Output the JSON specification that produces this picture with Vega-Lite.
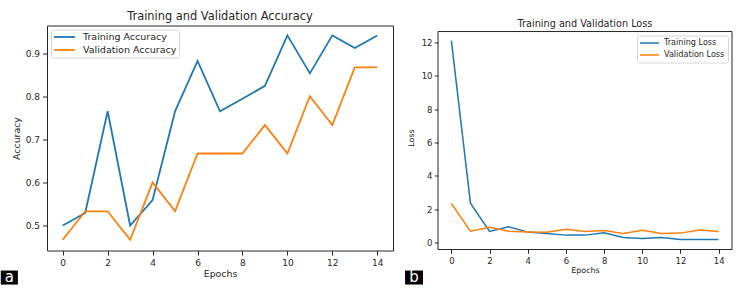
{
  "$schema": "https://vega.github.io/schema/vega-lite/v6.json",
  "padding": {"left": 0, "top": 10.5, "right": 10, "bottom": 3},
  "background": "white",
  "config": {
    "font": "DejaVu Sans",
    "view": {"stroke": "#262626", "strokeWidth": 1},
    "axis": {"grid": false, "domain": false, "labelOverlap": false, "tickCount": 20, "tickColor": "#262626", "labelColor": "#262626", "titleColor": "#262626", "titleFontWeight": "normal"},
    "title": {"fontWeight": "normal", "color": "#262626"},
    "legend": {"title": null, "labelColor": "#262626", "strokeColor": "#d6d6d6", "fillColor": "white", "cornerRadius": 2}
  },
  "datasets": {
    "acc": [
      {"epoch": 0, "value": 0.5, "series": "Training Accuracy"},
      {"epoch": 1, "value": 0.529, "series": "Training Accuracy"},
      {"epoch": 2, "value": 0.765, "series": "Training Accuracy"},
      {"epoch": 3, "value": 0.5, "series": "Training Accuracy"},
      {"epoch": 4, "value": 0.559, "series": "Training Accuracy"},
      {"epoch": 5, "value": 0.765, "series": "Training Accuracy"},
      {"epoch": 6, "value": 0.882, "series": "Training Accuracy"},
      {"epoch": 7, "value": 0.765, "series": "Training Accuracy"},
      {"epoch": 8, "value": 0.794, "series": "Training Accuracy"},
      {"epoch": 9, "value": 0.824, "series": "Training Accuracy"},
      {"epoch": 10, "value": 0.941, "series": "Training Accuracy"},
      {"epoch": 11, "value": 0.853, "series": "Training Accuracy"},
      {"epoch": 12, "value": 0.941, "series": "Training Accuracy"},
      {"epoch": 13, "value": 0.912, "series": "Training Accuracy"},
      {"epoch": 14, "value": 0.941, "series": "Training Accuracy"},
      {"epoch": 0, "value": 0.467, "series": "Validation Accuracy"},
      {"epoch": 1, "value": 0.533, "series": "Validation Accuracy"},
      {"epoch": 2, "value": 0.533, "series": "Validation Accuracy"},
      {"epoch": 3, "value": 0.467, "series": "Validation Accuracy"},
      {"epoch": 4, "value": 0.6, "series": "Validation Accuracy"},
      {"epoch": 5, "value": 0.533, "series": "Validation Accuracy"},
      {"epoch": 6, "value": 0.667, "series": "Validation Accuracy"},
      {"epoch": 7, "value": 0.667, "series": "Validation Accuracy"},
      {"epoch": 8, "value": 0.667, "series": "Validation Accuracy"},
      {"epoch": 9, "value": 0.733, "series": "Validation Accuracy"},
      {"epoch": 10, "value": 0.667, "series": "Validation Accuracy"},
      {"epoch": 11, "value": 0.8, "series": "Validation Accuracy"},
      {"epoch": 12, "value": 0.733, "series": "Validation Accuracy"},
      {"epoch": 13, "value": 0.867, "series": "Validation Accuracy"},
      {"epoch": 14, "value": 0.867, "series": "Validation Accuracy"}
    ],
    "loss": [
      {"epoch": 0, "value": 12.1, "series": "Training Loss"},
      {"epoch": 1, "value": 2.37, "series": "Training Loss"},
      {"epoch": 2, "value": 0.68, "series": "Training Loss"},
      {"epoch": 3, "value": 0.96, "series": "Training Loss"},
      {"epoch": 4, "value": 0.64, "series": "Training Loss"},
      {"epoch": 5, "value": 0.56, "series": "Training Loss"},
      {"epoch": 6, "value": 0.46, "series": "Training Loss"},
      {"epoch": 7, "value": 0.46, "series": "Training Loss"},
      {"epoch": 8, "value": 0.6, "series": "Training Loss"},
      {"epoch": 9, "value": 0.32, "series": "Training Loss"},
      {"epoch": 10, "value": 0.26, "series": "Training Loss"},
      {"epoch": 11, "value": 0.32, "series": "Training Loss"},
      {"epoch": 12, "value": 0.2, "series": "Training Loss"},
      {"epoch": 13, "value": 0.2, "series": "Training Loss"},
      {"epoch": 14, "value": 0.2, "series": "Training Loss"},
      {"epoch": 0, "value": 2.35, "series": "Validation Loss"},
      {"epoch": 1, "value": 0.69, "series": "Validation Loss"},
      {"epoch": 2, "value": 0.93, "series": "Validation Loss"},
      {"epoch": 3, "value": 0.69, "series": "Validation Loss"},
      {"epoch": 4, "value": 0.65, "series": "Validation Loss"},
      {"epoch": 5, "value": 0.63, "series": "Validation Loss"},
      {"epoch": 6, "value": 0.81, "series": "Validation Loss"},
      {"epoch": 7, "value": 0.67, "series": "Validation Loss"},
      {"epoch": 8, "value": 0.73, "series": "Validation Loss"},
      {"epoch": 9, "value": 0.56, "series": "Validation Loss"},
      {"epoch": 10, "value": 0.75, "series": "Validation Loss"},
      {"epoch": 11, "value": 0.56, "series": "Validation Loss"},
      {"epoch": 12, "value": 0.58, "series": "Validation Loss"},
      {"epoch": 13, "value": 0.77, "series": "Validation Loss"},
      {"epoch": 14, "value": 0.67, "series": "Validation Loss"}
    ],
    "tagA": [{"tag": "a"}],
    "tagB": [{"tag": "b"}]
  },
  "spacing": 11,
  "resolve": {"scale": {"color": "independent", "x": "independent", "y": "independent"}, "legend": {"color": "independent"}},
  "hconcat": [
    {
      "width": 346,
      "height": 225,
      "title": {"text": "Training and Validation Accuracy", "fontSize": 11.4, "offset": 3},
      "layer": [
        {
          "data": {"name": "acc"},
          "mark": {"type": "line", "strokeWidth": 1.8},
          "encoding": {
            "x": {"field": "epoch", "type": "quantitative",
              "scale": {"domain": [-0.7, 14.7], "nice": false, "zero": false},
              "axis": {"values": [0, 2, 4, 6, 8, 10, 12, 14], "title": "Epochs", "labelFontSize": 9, "titleFontSize": 9.4, "tickSize": 4.5, "labelPadding": 3, "titlePadding": 2}},
            "y": {"field": "value", "type": "quantitative",
              "scale": {"domain": [0.442, 0.964], "nice": false, "zero": false},
              "axis": {"values": [0.5, 0.6, 0.7, 0.8, 0.9], "format": ".1f", "title": "Accuracy", "labelFontSize": 9, "titleFontSize": 9.4, "tickSize": 4.5, "labelPadding": 3, "titlePadding": 4}},
            "color": {"field": "series", "type": "nominal",
              "scale": {"domain": ["Training Accuracy", "Validation Accuracy"], "range": ["#1f77b4", "#ff7f0e"]},
              "legend": {"orient": "top-left", "offset": 4, "padding": 2.5, "labelFontSize": 9.5, "symbolType": "M-2.625,0H2.625", "symbolSize": 64, "symbolStrokeWidth": 1.8, "symbolOffset": 6, "labelOffset": 13.5, "rowPadding": 3}}
          }
        },
        {
          "data": {"name": "tagA"},
          "mark": {"type": "rect", "color": "black", "clip": false},
          "encoding": {"x": {"datum": -2.757}, "x2": {"datum": -1.997}, "y": {"datum": 0.3955}, "y2": {"datum": 0.363}}
        },
        {
          "data": {"name": "tagA"},
          "mark": {"type": "text", "color": "white", "fontSize": 15, "baseline": "middle", "align": "center", "clip": false},
          "encoding": {"x": {"datum": -2.377}, "y": {"datum": 0.381}, "text": {"field": "tag"}}
        }
      ]
    },
    {
      "width": 294,
      "height": 224,
      "view": {"stroke": null},
      "title": {"text": "Training and Validation Loss", "fontSize": 9.7, "offset": 3, "dy": 6},
      "layer": [
        {
          "data": {"name": "tagB"},
          "mark": {"type": "rect", "filled": false, "color": "#262626", "strokeWidth": 1, "clip": false},
          "encoding": {"x": {"datum": -0.7}, "x2": {"datum": 14.7}, "y": {"datum": -0.4}, "y2": {"datum": 12.64}}
        },
        {
          "data": {"name": "loss"},
          "mark": {"type": "line", "strokeWidth": 1.5},
          "encoding": {
            "x": {"field": "epoch", "type": "quantitative",
              "scale": {"domain": [-0.7, 14.7], "nice": false, "zero": false},
              "axis": {"values": [0, 2, 4, 6, 8, 10, 12, 14], "title": "Epochs", "labelFontSize": 8.5, "titleFontSize": 7.9, "tickSize": 3.7, "labelPadding": 3, "titlePadding": 2}},
            "y": {"field": "value", "type": "quantitative",
              "scale": {"domain": [-0.4, 13.0], "nice": false, "zero": false},
              "axis": {"values": [0, 2, 4, 6, 8, 10, 12], "format": "d", "title": "Loss", "labelFontSize": 8.5, "titleFontSize": 7.9, "tickSize": 3.7, "labelPadding": 2.3, "titlePadding": 6}},
            "color": {"field": "series", "type": "nominal",
              "scale": {"domain": ["Training Loss", "Validation Loss"], "range": ["#1f77b4", "#ff7f0e"]},
              "legend": {"orient": "none", "legendX": 199, "legendY": 10, "padding": 3, "labelFontSize": 8.1, "symbolType": "M-2.714,0H2.714", "symbolSize": 49, "symbolStrokeWidth": 1.5, "symbolOffset": 5, "labelOffset": 10, "rowPadding": 3}}
          }
        },
        {
          "data": {"name": "tagB"},
          "mark": {"type": "rect", "color": "black", "clip": false},
          "encoding": {"x": {"datum": -2.426}, "x2": {"datum": -1.485}, "y": {"datum": -1.657}, "y2": {"datum": -2.496}}
        },
        {
          "data": {"name": "tagB"},
          "mark": {"type": "text", "color": "white", "fontSize": 15, "baseline": "middle", "align": "center", "clip": false},
          "encoding": {"x": {"datum": -1.955}, "y": {"datum": -2.05}, "text": {"field": "tag"}}
        }
      ]
    }
  ]
}
